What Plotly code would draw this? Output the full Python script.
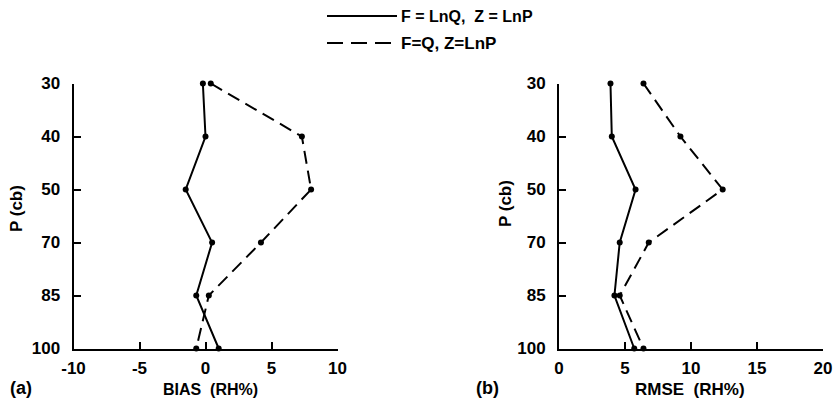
import plotly.graph_objects as go

# Pressure levels (cb), plotted top-down on an evenly spaced category axis
levels = ["30", "40", "50", "70", "85", "100"]

# BIAS (RH%) profiles
bias_lnq = [-0.2, 0.0, -1.5, 0.5, -0.7, 1.0]
bias_q = [0.4, 7.3, 8.0, 4.2, 0.25, -0.7]

# RMSE (RH%) profiles
rmse_lnq = [3.9, 4.0, 5.8, 4.6, 4.2, 5.7]
rmse_q = [6.4, 9.2, 12.4, 6.8, 4.6, 6.4]

bias_ticks = [-10, -5, 0, 5, 10]
rmse_ticks = [0, 5, 10, 15, 20]

label_lnq = "F = LnQ,  Z = LnP"
label_q = "F=Q, Z=LnP"

FONT = "Liberation Sans"
INK = "black"
W, H = 839, 405

fig = go.Figure()


def add_profile(xvals, dash, xa, ya):
    fig.add_trace(go.Scatter(
        x=xvals, y=levels, mode="lines+markers",
        line=dict(color=INK, width=2, dash=dash),
        marker=dict(color=INK, size=6),
        xaxis=xa, yaxis=ya, cliponaxis=False, showlegend=False,
    ))


add_profile(bias_lnq, "solid", "x", "y")
add_profile(bias_q, "13px,7px", "x", "y")
add_profile(rmse_lnq, "solid", "x2", "y2")
add_profile(rmse_q, "13px,7px", "x2", "y2")

y_top = 1 - 83.5 / H
y_bot = 1 - 348.5 / H

axis_font = dict(family=FONT, size=17, color=INK, weight="bold")
common_x = dict(
    showline=True, linecolor=INK, linewidth=2, ticks="inside", ticklen=7,
    tickwidth=2, tickcolor=INK, showgrid=False, zeroline=False,
    tickfont=axis_font, ticklabelstandoff=3, automargin=False,
)
common_y = dict(
    type="category", categoryorder="array", categoryarray=levels,
    range=[5, 0], showline=True, linecolor=INK, linewidth=2,
    ticks="inside", ticklen=7, tickwidth=2, tickcolor=INK,
    showgrid=False, zeroline=False, tickfont=axis_font,
    ticklabelstandoff=8, automargin=False,
)

fig.update_layout(
    width=W, height=H, margin=dict(l=0, r=0, t=0, b=0),
    paper_bgcolor="white", plot_bgcolor="white",
    font=dict(family=FONT, color=INK),
    xaxis=dict(domain=[73.5 / W, 337.5 / W], range=[-10, 10],
               tickvals=bias_ticks, ticktext=[str(v) for v in bias_ticks],
               anchor="y", **common_x),
    yaxis=dict(domain=[y_bot, y_top], anchor="x", **common_y),
    xaxis2=dict(domain=[559 / W, 823 / W], range=[0, 20],
                tickvals=rmse_ticks, ticktext=[str(v) for v in rmse_ticks],
                anchor="y2", **common_x),
    yaxis2=dict(domain=[y_bot, y_top], anchor="x2", **common_y),
)

txt = dict(family=FONT, size=16, color=INK, weight="bold")


def label(x, y, text, angle=0, xanchor="center", size=16):
    f = dict(txt, size=size)
    fig.add_annotation(x=x / W, y=1 - y / H, xref="paper", yref="paper",
                       text=text, showarrow=False, font=f, textangle=angle,
                       xanchor=xanchor, yanchor="middle")


label(21, 388, "(a)", size=18)
label(210, 389, "BIAS  (RH%)")
label(16, 209, "P (cb)", angle=-90, size=17)
label(487, 388, "(b)", size=18)
label(690, 389, "RMSE  (RH%)", size=17)
label(506, 204, "P (cb)", angle=-90, size=17)

# Legend key drawn above the panels
fig.add_shape(type="line", xref="paper", yref="paper",
              x0=327 / W, x1=397 / W, y0=1 - 16 / H, y1=1 - 16 / H,
              line=dict(color=INK, width=2))
fig.add_shape(type="line", xref="paper", yref="paper",
              x0=327 / W, x1=397 / W, y0=1 - 43 / H, y1=1 - 43 / H,
              line=dict(color=INK, width=2, dash="16px,8px"))
label(399, 16, label_lnq, xanchor="left", size=16)
label(399, 43, label_q, xanchor="left", size=17)

fig.write_html("out.html")
